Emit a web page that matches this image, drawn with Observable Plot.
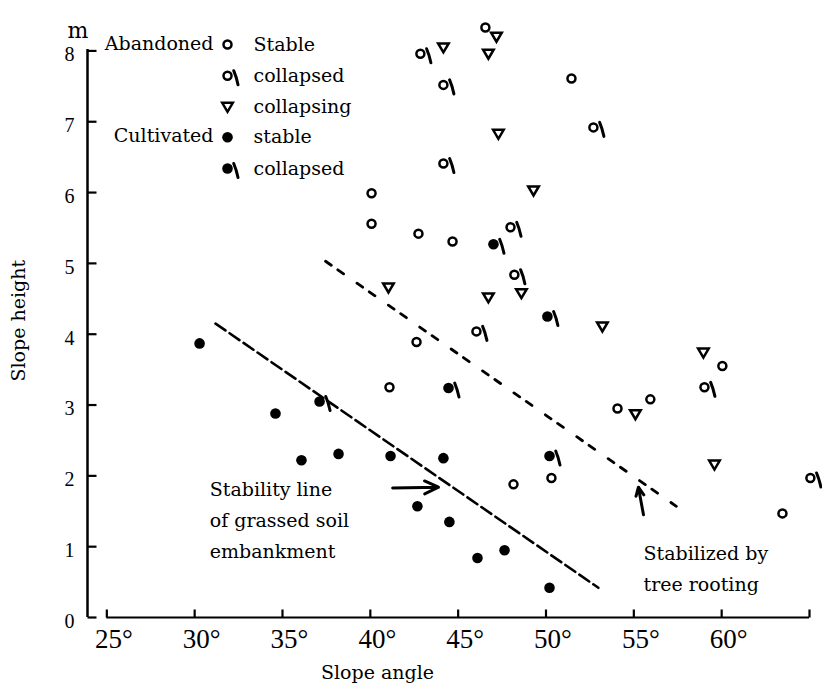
<!DOCTYPE html>
<html>
<head>
<meta charset="utf-8">
<script src="https://cdn.jsdelivr.net/npm/d3@7"></script>
<script src="https://cdn.jsdelivr.net/npm/@observablehq/plot@0.6"></script>
<style>
  html, body { margin: 0; padding: 0; background: #ffffff; }
  #chart { width: 822px; height: 690px; }
</style>
</head>
<body>
<div id="chart"></div>
<script>
// ---- Data: [slope angle (degrees), slope height (m)] ----
const abandonedStable = [[46.55,8.33],[51.45,7.61],[40.07,5.99],[40.07,5.56],[42.74,5.42],[44.68,5.31],[42.63,3.89],[41.09,3.25],[54.07,2.95],[55.94,3.08],[60.04,3.55],[50.31,1.97],[48.15,1.88],[63.46,1.47]];
const abandonedCollapsed = [[42.85,7.96],[44.16,7.52],[44.16,6.41],[52.70,6.92],[47.98,5.51],[48.20,4.84],[46.04,4.04],[59.02,3.25],[65.05,1.97]];
const abandonedCollapsing = [[44.16,8.05],[47.18,8.20],[46.72,7.96],[47.29,6.83],[49.29,6.03],[41.03,4.66],[46.72,4.52],[48.60,4.58],[53.21,4.11],[58.96,3.74],[55.09,2.87],[59.59,2.16]];
const cultivatedStable = [[30.28,3.87],[34.60,2.88],[36.08,2.22],[38.19,2.31],[41.15,2.28],[44.16,2.25],[42.68,1.57],[44.50,1.35],[46.10,0.84],[47.64,0.95],[50.20,0.42]];
const cultivatedCollapsed = [[37.11,3.05],[47.01,5.27],[50.08,4.25],[44.45,3.24],[50.20,2.28]];

// dashed boundary lines
const stabilityLine = [[31.19,4.15],[52.98,0.42]];
const treeRootingLine = [[37.45,5.03],[57.42,1.57]];

// annotation arrows: [x1, y1, x2, y2]
const arrows = [[41.27,1.83,43.88,1.84],[55.55,1.45,55.26,1.84]];

// annotation texts: [angle, height, text]
const notes = [[30.86,1.42,"Stability line\nof grassed soil\nembankment"],[55.55,0.73,"Stabilized by\ntree rooting"]];

// legend
const legendGroups = ["Abandoned","","","Cultivated",""];
const legendLabels = ["Stable","collapsed","collapsing","stable","collapsed"];
const legendKinds = ["aStable","aCollapsed","aCollapsing","cStable","cCollapsed"];
const legendAngle = 31.87;
const legendHeights = [8.09,7.65,7.21,6.78,6.34];

// axes
const xTicks = [25,30,35,40,45,50,55,60,65];
const xTickLabels = ["25°","30°","35°","40°","45°","50°","55°","60°",""];
const yTicks = [0,1,2,3,4,5,6,7,8];
const xDomain = [23.9, 65];
const yDomain = [0, 8.02];

// ---- custom symbols ----
const symCircle = {draw(c, size) { const r = Math.sqrt(size / Math.PI); c.moveTo(r, 0); c.arc(0, 0, r, 0, 2 * Math.PI); c.closePath(); }};
const symCollapseTick = {draw(c) { c.moveTo(6.2, -5); c.quadraticCurveTo(8.8, 1, 10.5, 9); }};
const symTriDown = {draw(c) { c.moveTo(-5.3, -4); c.lineTo(5.3, -4); c.lineTo(0, 5); c.closePath(); }};
const symTickRight = {draw(c) { c.moveTo(0, 0); c.lineTo(9, 0); }};
const symTickUp = {draw(c) { c.moveTo(0, 0); c.lineTo(0, -8); }};

const styles = {
  aStable: {symbol: symCircle, r: 4, fill: "none", stroke: "black", strokeWidth: 2.5},
  aCollapsed: {symbol: symCircle, r: 4, fill: "none", stroke: "black", strokeWidth: 2.5},
  aCollapsing: {symbol: symTriDown, fill: "none", stroke: "black", strokeWidth: 2.5, strokeLinejoin: "miter"},
  cStable: {symbol: symCircle, r: 5.3, fill: "black", stroke: "none"},
  cCollapsed: {symbol: symCircle, r: 5.3, fill: "black", stroke: "none"}
};
const hasTick = {aCollapsed: true, cCollapsed: true};
const series = {aStable: abandonedStable, aCollapsed: abandonedCollapsed, aCollapsing: abandonedCollapsing, cStable: cultivatedStable, cCollapsed: cultivatedCollapsed};

const legendRows = legendKinds.map((k, i) => ({kind: k, group: legendGroups[i], label: legendLabels[i], a: legendAngle, h: legendHeights[i]}));

const serif = "'DejaVu Serif', serif";
const numFont = "'Liberation Serif', serif";

const marks = [
  // axis lines
  Plot.ruleX([xDomain[0]], {stroke: "black", strokeWidth: 2.5}),
  Plot.ruleY([0], {x1: 25, x2: 65, stroke: "black", strokeWidth: 2.2}),
  // inward ticks
  Plot.dot(yTicks, {x: () => xDomain[0], y: d => d, symbol: symTickRight, stroke: "black", strokeWidth: 2.2, fill: "none"}),
  Plot.dot(xTicks, {x: d => d, y: () => 0, symbol: symTickUp, stroke: "black", strokeWidth: 2.2, fill: "none"}),
  // tick labels
  Plot.text(xTicks, {x: d => d, text: (d, i) => xTickLabels[i], frameAnchor: "bottom", lineAnchor: "top", dy: 11, dx: 7, fontFamily: numFont, fontSize: 27, fill: "black"}),
  Plot.text(yTicks, {y: d => d, text: d => String(d), frameAnchor: "left", textAnchor: "end", dx: -13, dy: 4, fontFamily: numFont, fontSize: 20, fill: "black"}),
  // axis titles
  Plot.text(["Slope angle"], {frameAnchor: "bottom", text: d => d, dx: -71, dy: 61, fontFamily: serif, fontSize: 19, fill: "black"}),
  Plot.text(["Slope height"], {frameAnchor: "left", text: d => d, dx: -69, dy: 48, rotate: -90, fontFamily: serif, fontSize: 19, fill: "black"}),
  Plot.text(["m"], {frameAnchor: "top-left", text: d => d, dx: -20, dy: -27, fontFamily: serif, fontSize: 22, fill: "black"}),
  // dashed lines
  Plot.line(stabilityLine, {x: d => d[0], y: d => d[1], stroke: "black", strokeWidth: 2.6, strokeDasharray: "12,5"}),
  Plot.line(treeRootingLine, {x: d => d[0], y: d => d[1], stroke: "black", strokeWidth: 2.8, strokeDasharray: "7,8,7,16.3"}),
  // arrows
  Plot.arrow(arrows, {x1: d => d[0], y1: d => d[1], x2: d => d[2], y2: d => d[3], stroke: "black", strokeWidth: 3, headLength: 11, headAngle: 50}),
  // annotations
  Plot.text(notes, {x: d => d[0], y: d => d[1], text: d => d[2], textAnchor: "start", lineHeight: 1.63, fontFamily: serif, fontSize: 19, fill: "black"}),
  // legend text
  Plot.text(legendRows, {x: "a", y: "h", text: "group", textAnchor: "end", dx: -14, dy: -1, fontFamily: serif, fontSize: 19, fill: "black"}),
  Plot.text(legendRows, {x: "a", y: "h", text: "label", textAnchor: "start", dx: 26, dy: 0, fontFamily: serif, fontSize: 19, fill: "black"})
];

for (const k of legendKinds) {
  const data = series[k];
  const legendData = legendRows.filter(d => d.kind === k);
  marks.push(Plot.dot(data, {x: d => d[0], y: d => d[1], ...styles[k]}));
  marks.push(Plot.dot(legendData, {x: "a", y: "h", ...styles[k]}));
  if (hasTick[k]) {
    const tickStyle = {symbol: symCollapseTick, fill: "none", stroke: "black", strokeWidth: 3, strokeLinecap: "round"};
    marks.push(Plot.dot(data, {x: d => d[0], y: d => d[1], ...tickStyle}));
    marks.push(Plot.dot(legendData, {x: "a", y: "h", ...tickStyle}));
  }
}

const chart = Plot.plot({
  width: 822,
  height: 690,
  marginLeft: 87,
  marginRight: 13,
  marginTop: 49,
  marginBottom: 73,
  x: {domain: xDomain, axis: null},
  y: {domain: yDomain, axis: null},
  style: {background: "white", color: "black", fontFamily: serif, overflow: "visible"},
  marks
});
document.getElementById("chart").appendChild(chart);
</script>
</body>
</html>
